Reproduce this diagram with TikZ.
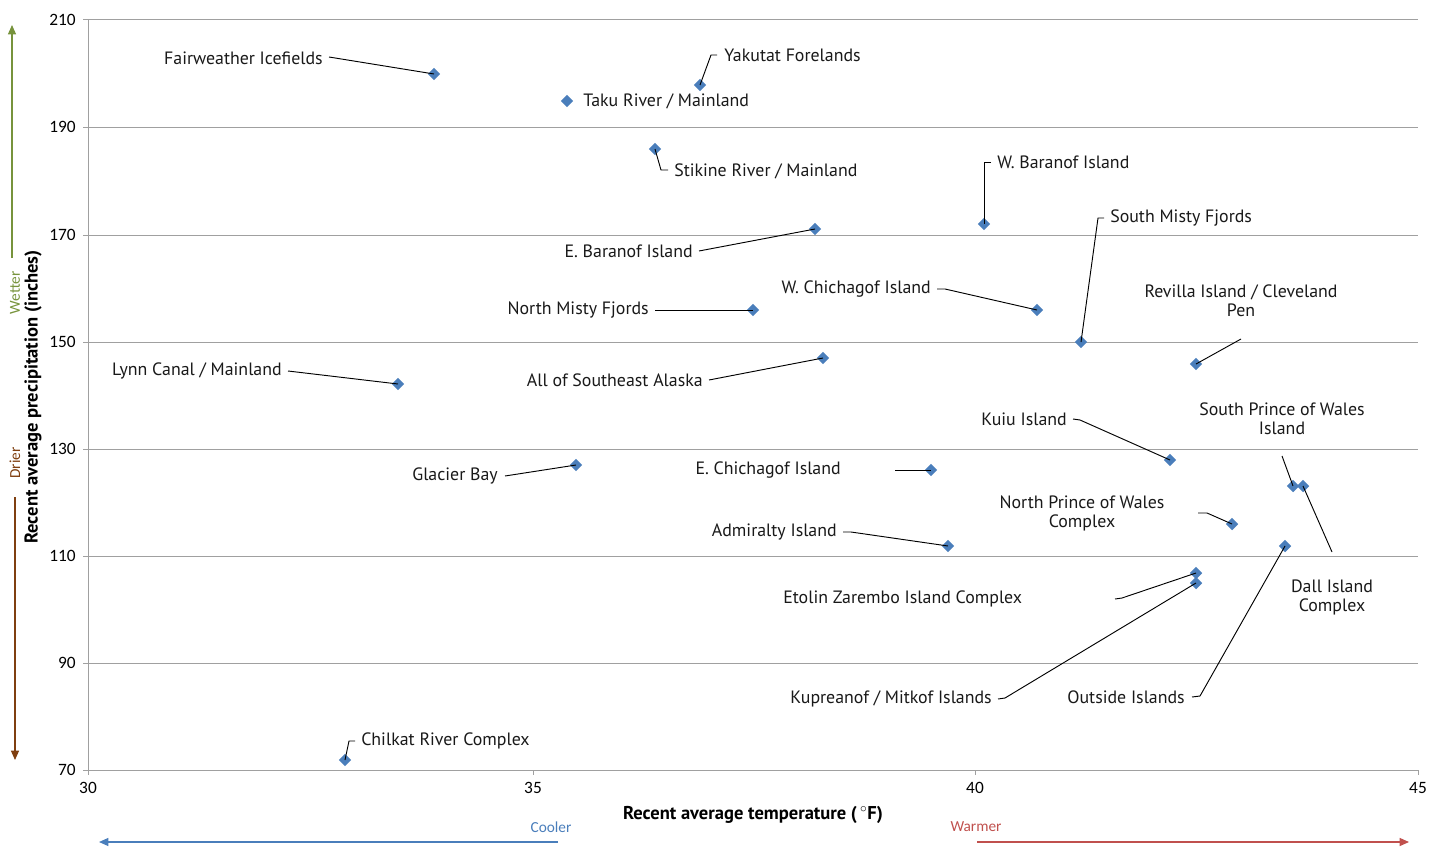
\documentclass[tikz,border=0pt]{standalone}
\usepackage{fontspec}
\setmainfont{PT Sans}
\newfontfamily\tickfont{Carlito}
\usetikzlibrary{shapes.geometric,arrows.meta}
\definecolor{ptblue}{HTML}{4A7EBB}
\definecolor{gridgray}{HTML}{A0A0A0}
\definecolor{wetgreen}{HTML}{77933C}
\definecolor{drybrown}{HTML}{7F3F10}
\definecolor{coolblue}{HTML}{4A7EBB}
\definecolor{warmred}{HTML}{C0504D}
\begin{document}
\begin{tikzpicture}[x=0.75pt,y=-0.75pt,
  pnt/.style={diamond,fill=ptblue,inner sep=0pt,minimum size=9.5pt},
  lab/.style={inner sep=0pt,font=\fontsize{13.4}{14.3}\selectfont,text=black!90},
  mlab/.style={lab,align=center},
  leader/.style={draw=black,line width=0.7pt},
  grid/.style={draw=gridgray,line width=0.75pt},
  tick/.style={inner sep=0pt,font=\tickfont\fontsize{13}{14}\selectfont},
  axtitle/.style={inner sep=0pt,font=\bfseries\fontsize{13.9}{15}\selectfont}]
\useasboundingbox (0,0) rectangle (1433,849);
% grid
\foreach \yy/\v in {20/210,127/190,235/170,342/150,449/130,556/110,663/90}{
  \draw[grid] (83,\yy) -- (1418,\yy);
  \node[tick,anchor=east] at (76,\yy) {\v};
}
\node[tick,anchor=east] at (76,770) {70};
\draw[grid] (88,20) -- (88,770);
\draw[grid] (83,770) -- (1418,770);
\foreach \xx/\v in {88/30,533/35,975/40,1418/45}{
  \draw[grid] (\xx,770) -- (\xx,775);
  \node[tick,anchor=north] at (\xx,782) {\v};
}
% axis titles
\node[axtitle] (xt) at (753,815) {Recent average temperature (\,$^\circ$F)};
\node[axtitle,rotate=90] (yt) at (33,397) {Recent average precipitation (inches)};
% directions
\node[inner sep=0pt,rotate=90,text=wetgreen,font=\tickfont\fontsize{11.5}{13}\selectfont,anchor=center] (wet) at (15,293) {Wetter};
\coordinate (wetA) at (12,258); \coordinate (wetB) at (12,25);
\draw[wetgreen,line width=0.9pt,-{Triangle[length=7pt,width=6pt]}] (wetA) -- (wetB);
\node[inner sep=0pt,rotate=90,text=drybrown,font=\tickfont\fontsize{11.5}{13}\selectfont] (dry) at (15,463) {Drier};
\coordinate (dryA) at (15,497); \coordinate (dryB) at (15,760);
\draw[drybrown,line width=0.9pt,-{Triangle[length=7pt,width=6pt]}] (dryA) -- (dryB);
\node[inner sep=0pt,text=coolblue,font=\tickfont\fontsize{11.5}{13}\selectfont] (cool) at (551,827) {Cooler};
\coordinate (coolA) at (558,842); \coordinate (coolB) at (99,842);
\draw[coolblue,line width=0.9pt,-{Triangle[length=7pt,width=6pt]}] (coolA) -- (coolB);
\node[inner sep=0pt,text=warmred,font=\tickfont\fontsize{11.5}{13}\selectfont] (warm) at (976,827) {Warmer};
\coordinate (warmA) at (977,842); \coordinate (warmB) at (1409,842);
\draw[warmred,line width=0.9pt,-{Triangle[length=7pt,width=6pt]}] (warmA) -- (warmB);

% points
\node[pnt] (p1) at (434,74) {};
\node[pnt] (p2) at (700,85) {};
\node[pnt] (p3) at (567,101) {};
\node[pnt] (p4) at (655,149) {};
\node[pnt] (p5) at (984,224) {};
\node[pnt] (p6) at (815,229) {};
\node[pnt] (p7) at (1081,342) {};
\node[pnt] (p8) at (1037,310) {};
\node[pnt] (p9) at (1196,364) {};
\node[pnt] (p10) at (753,310) {};
\node[pnt] (p11) at (823,358) {};
\node[pnt] (p12) at (398,384) {};
\node[pnt] (p13) at (1170,460) {};
\node[pnt] (p14) at (1293,486) {};
\node[pnt] (p15) at (1303,486) {};
\node[pnt] (p16) at (576,465) {};
\node[pnt] (p17) at (931,470) {};
\node[pnt] (p18) at (1232,524) {};
\node[pnt] (p19) at (948,546) {};
\node[pnt] (p20) at (1285,546) {};
\node[pnt] (p21) at (1196,573) {};
\node[pnt] (p22) at (1196,583) {};
\node[pnt] (p23) at (345,760) {};

% labels
\node[lab,anchor=east] (l1) at (323,58) {Fairweather Icefields};
\node[lab,anchor=west] (l2) at (724,55) {Yakutat Forelands};
\node[lab,anchor=west] (l3) at (583,101) {Taku River / Mainland};
\node[lab,anchor=west] (l4) at (674,171) {Stikine River / Mainland};
\node[lab,anchor=west] (l5) at (997,162) {W. Baranof Island};
\node[lab,anchor=east] (l6) at (693,251) {E. Baranof Island};
\node[lab,anchor=west] (l7) at (1110,218) {South Misty Fjords};
\node[lab,anchor=east] (l8) at (931,289) {W. Chichagof Island};
\node[mlab] (l9) at (1241,301) {Revilla Island / Cleveland\\Pen};
\node[lab,anchor=east] (l10) at (649,310) {North Misty Fjords};
\node[lab,anchor=east] (l11) at (703,380) {All of Southeast Alaska};
\node[lab,anchor=east] (l12) at (282,371) {Lynn Canal / Mainland};
\node[lab,anchor=east] (l13) at (1067,419) {Kuiu Island};
\node[mlab] (l14) at (1282,419) {South Prince of Wales\\Island};
\node[mlab] (l15) at (1332,597) {Dall Island\\Complex};
\node[lab,anchor=east] (l16) at (498,476) {Glacier Bay};
\node[lab,anchor=east] (l17) at (841,470) {E. Chichagof Island};
\node[mlab] (l18) at (1082,513) {North Prince of Wales\\Complex};
\node[lab,anchor=east] (l19) at (837,532) {Admiralty Island};
\node[lab,anchor=east] (l20) at (1185,697) {Outside Islands};
\node[lab,anchor=west] (l21) at (783,599) {Etolin Zarembo Island Complex};
\node[lab,anchor=east] (l22) at (992,699) {Kupreanof / Mitkof Islands};
\node[lab,anchor=west] (l23) at (361,741) {Chilkat River Complex};

% leader coordinates
\coordinate (c1) at (329,57);
\coordinate (c2a) at (717,55); \coordinate (c2b) at (711,55);
\coordinate (c4a) at (668,170); \coordinate (c4b) at (661,170);
\coordinate (c5a) at (991,162); \coordinate (c5b) at (984,162);
\coordinate (c6) at (699,251);
\coordinate (c7a) at (1104,218); \coordinate (c7b) at (1098,218);
\coordinate (c8a) at (937,289); \coordinate (c8b) at (945,289);
\coordinate (c9) at (1241,339);
\coordinate (c10) at (655,310);
\coordinate (c11) at (709,380);
\coordinate (c12) at (288,371);
\coordinate (c13a) at (1073,419); \coordinate (c13b) at (1080,420);
\coordinate (c14) at (1282,456);
\coordinate (c15) at (1332,552);
\coordinate (c16) at (505,476);
\coordinate (c17) at (895,470);
\coordinate (c18a) at (1198,513); \coordinate (c18b) at (1207,513);
\coordinate (c19a) at (843,532); \coordinate (c19b) at (851,532);
\coordinate (c20a) at (1192,697); \coordinate (c20b) at (1200,696);
\coordinate (c21a) at (1115,599); \coordinate (c21b) at (1122,598);
\coordinate (c22a) at (998,699); \coordinate (c22b) at (1005,698);
\coordinate (c23a) at (355,741); \coordinate (c23b) at (349,741);

\draw[leader] (c1) -- (p1.center);
\draw[leader] (c2a) -- (c2b) -- (p2.center);
\draw[leader] (c4a) -- (c4b) -- (p4.center);
\draw[leader] (c5a) -- (c5b) -- (p5.center);
\draw[leader] (c6) -- (p6.center);
\draw[leader] (c7a) -- (c7b) -- (p7.center);
\draw[leader] (c8a) -- (c8b) -- (p8.center);
\draw[leader] (c9) -- (p9.center);
\draw[leader] (c10) -- (p10.center);
\draw[leader] (c11) -- (p11.center);
\draw[leader] (c12) -- (p12.center);
\draw[leader] (c13a) -- (c13b) -- (p13.center);
\draw[leader] (c14) -- (p14.center);
\draw[leader] (c15) -- (p15.center);
\draw[leader] (c16) -- (p16.center);
\draw[leader] (c17) -- (p17.center);
\draw[leader] (c18a) -- (c18b) -- (p18.center);
\draw[leader] (c19a) -- (c19b) -- (p19.center);
\draw[leader] (c20a) -- (c20b) -- (p20.center);
\draw[leader] (c21a) -- (c21b) -- (p21.center);
\draw[leader] (c22a) -- (c22b) -- (p22.center);
\draw[leader] (c23a) -- (c23b) -- (p23.center);
\end{tikzpicture}
\end{document}
